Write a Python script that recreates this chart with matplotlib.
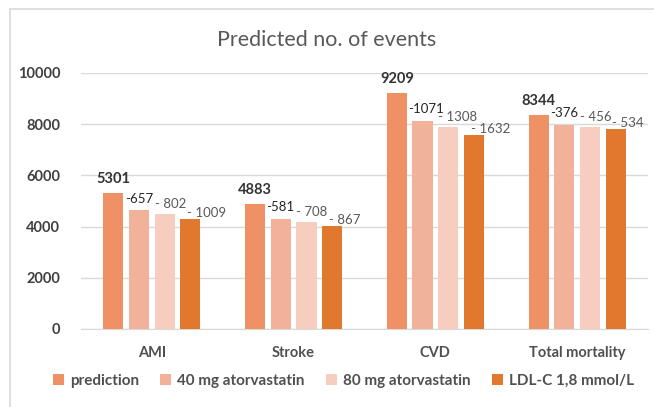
import matplotlib
matplotlib.use('Agg')
import numpy as np
from matplotlib import pyplot as plt
from matplotlib.patches import Rectangle

categories = ['AMI', 'Stroke', 'CVD', 'Total mortality']
series_names = ['prediction', '40 mg atorvastatin', '80 mg atorvastatin', 'LDL-C 1,8 mmol/L']
prediction = [5301, 4883, 9209, 8344]
atorva_40 = [4644, 4302, 8138, 7968]
atorva_80 = [4499, 4175, 7901, 7888]
ldl_target = [4292, 4016, 7577, 7810]
labels_40 = ['-657', '-581', '-1071', '-376']
labels_80 = ['- 802', '- 708', '- 1308', '- 456']
labels_ldl = ['- 1009', '- 867', '- 1632', '- 534']
y_ticks = [0, 2000, 4000, 6000, 8000, 10000]

colors = ['#EF9164', '#F2B199', '#F6CDBE', '#E0782E']

plt.rcParams['font.family'] = ['Lato', 'DejaVu Sans']

W, H = 654, 407
fig = plt.figure(figsize=(W / 100, H / 100), dpi=100)
ax = fig.add_axes([81 / W, 1 - 329 / H, 567 / W, 256 / H])

# outer chart border, only top and left edges fall inside the picture
fig.patches.append(Rectangle((10 / W, -0.1), 1.2, 1 - 9 / H + 0.1, transform=fig.transFigure,
                             fill=False, edgecolor='#D9D9D9', linewidth=1.2))

x = np.arange(len(categories))
pitch = 0.181
width = 0.142
all_values = [prediction, atorva_40, atorva_80, ldl_target]
all_labels = [None, labels_40, labels_80, labels_ldl]
label_colors = [None, '#262626', '#595959', '#595959']
# nudges of the reduction labels (points), like the hand-placed labels of the original
label_shift = [None, (-3, 4), (0, 3), (5, 0)]

for i, (vals, name) in enumerate(zip(all_values, series_names)):
    pos = x + (i - 1.5) * pitch
    bars = ax.bar(pos, vals, width=width, color=colors[i], label=name, zorder=3)
    for j, b in enumerate(bars):
        if i == 0:
            ax.annotate(str(vals[j]), (b.get_x() + b.get_width() / 2, vals[j]),
                        xytext=(0, 5), textcoords='offset points', ha='center', va='bottom',
                        fontsize=10.5, fontweight='bold', color='#333333', annotation_clip=False)
        else:
            ax.annotate(all_labels[i][j], (b.get_x(), vals[j]),
                        xytext=label_shift[i], textcoords='offset points', ha='left', va='bottom',
                        fontsize=9.5, color=label_colors[i], annotation_clip=False)

ax.set_xlim(-0.5, len(categories) - 0.5)
ax.set_ylim(0, 10000)
ax.set_yticks(y_ticks)
ax.set_yticklabels([str(t) for t in y_ticks])
ax.set_xticks(x)
ax.set_xticklabels(categories)
for lbl in ax.get_yticklabels():
    lbl.set_fontsize(10.5)
    lbl.set_fontweight('bold')
    lbl.set_color('#404040')
for lbl in ax.get_xticklabels():
    lbl.set_fontsize(10.5)
    lbl.set_fontweight('bold')
    lbl.set_color('#505050')
ax.tick_params(axis='both', length=0)
ax.tick_params(axis='y', pad=15)
ax.tick_params(axis='x', pad=12)
ax.grid(axis='y', color='#D9D9D9', linewidth=1, zorder=0)
for side in ['top', 'right', 'left']:
    ax.spines[side].set_visible(False)
ax.spines['bottom'].set_color('#D9D9D9')

fig.text(0.5, 1 - 40 / H, 'Predicted no. of events', ha='center', va='center',
         fontsize=15.5, color='#595959')

fig.legend(loc='center', bbox_to_anchor=(0.525, 1 - 381 / H), ncol=4, frameon=False,
           handlelength=0.7, handleheight=0.7, handletextpad=0.4, columnspacing=1.4,
           prop={'size': 11, 'weight': 'bold'}, labelcolor='#505050')

fig.savefig('out.png', dpi=100)
